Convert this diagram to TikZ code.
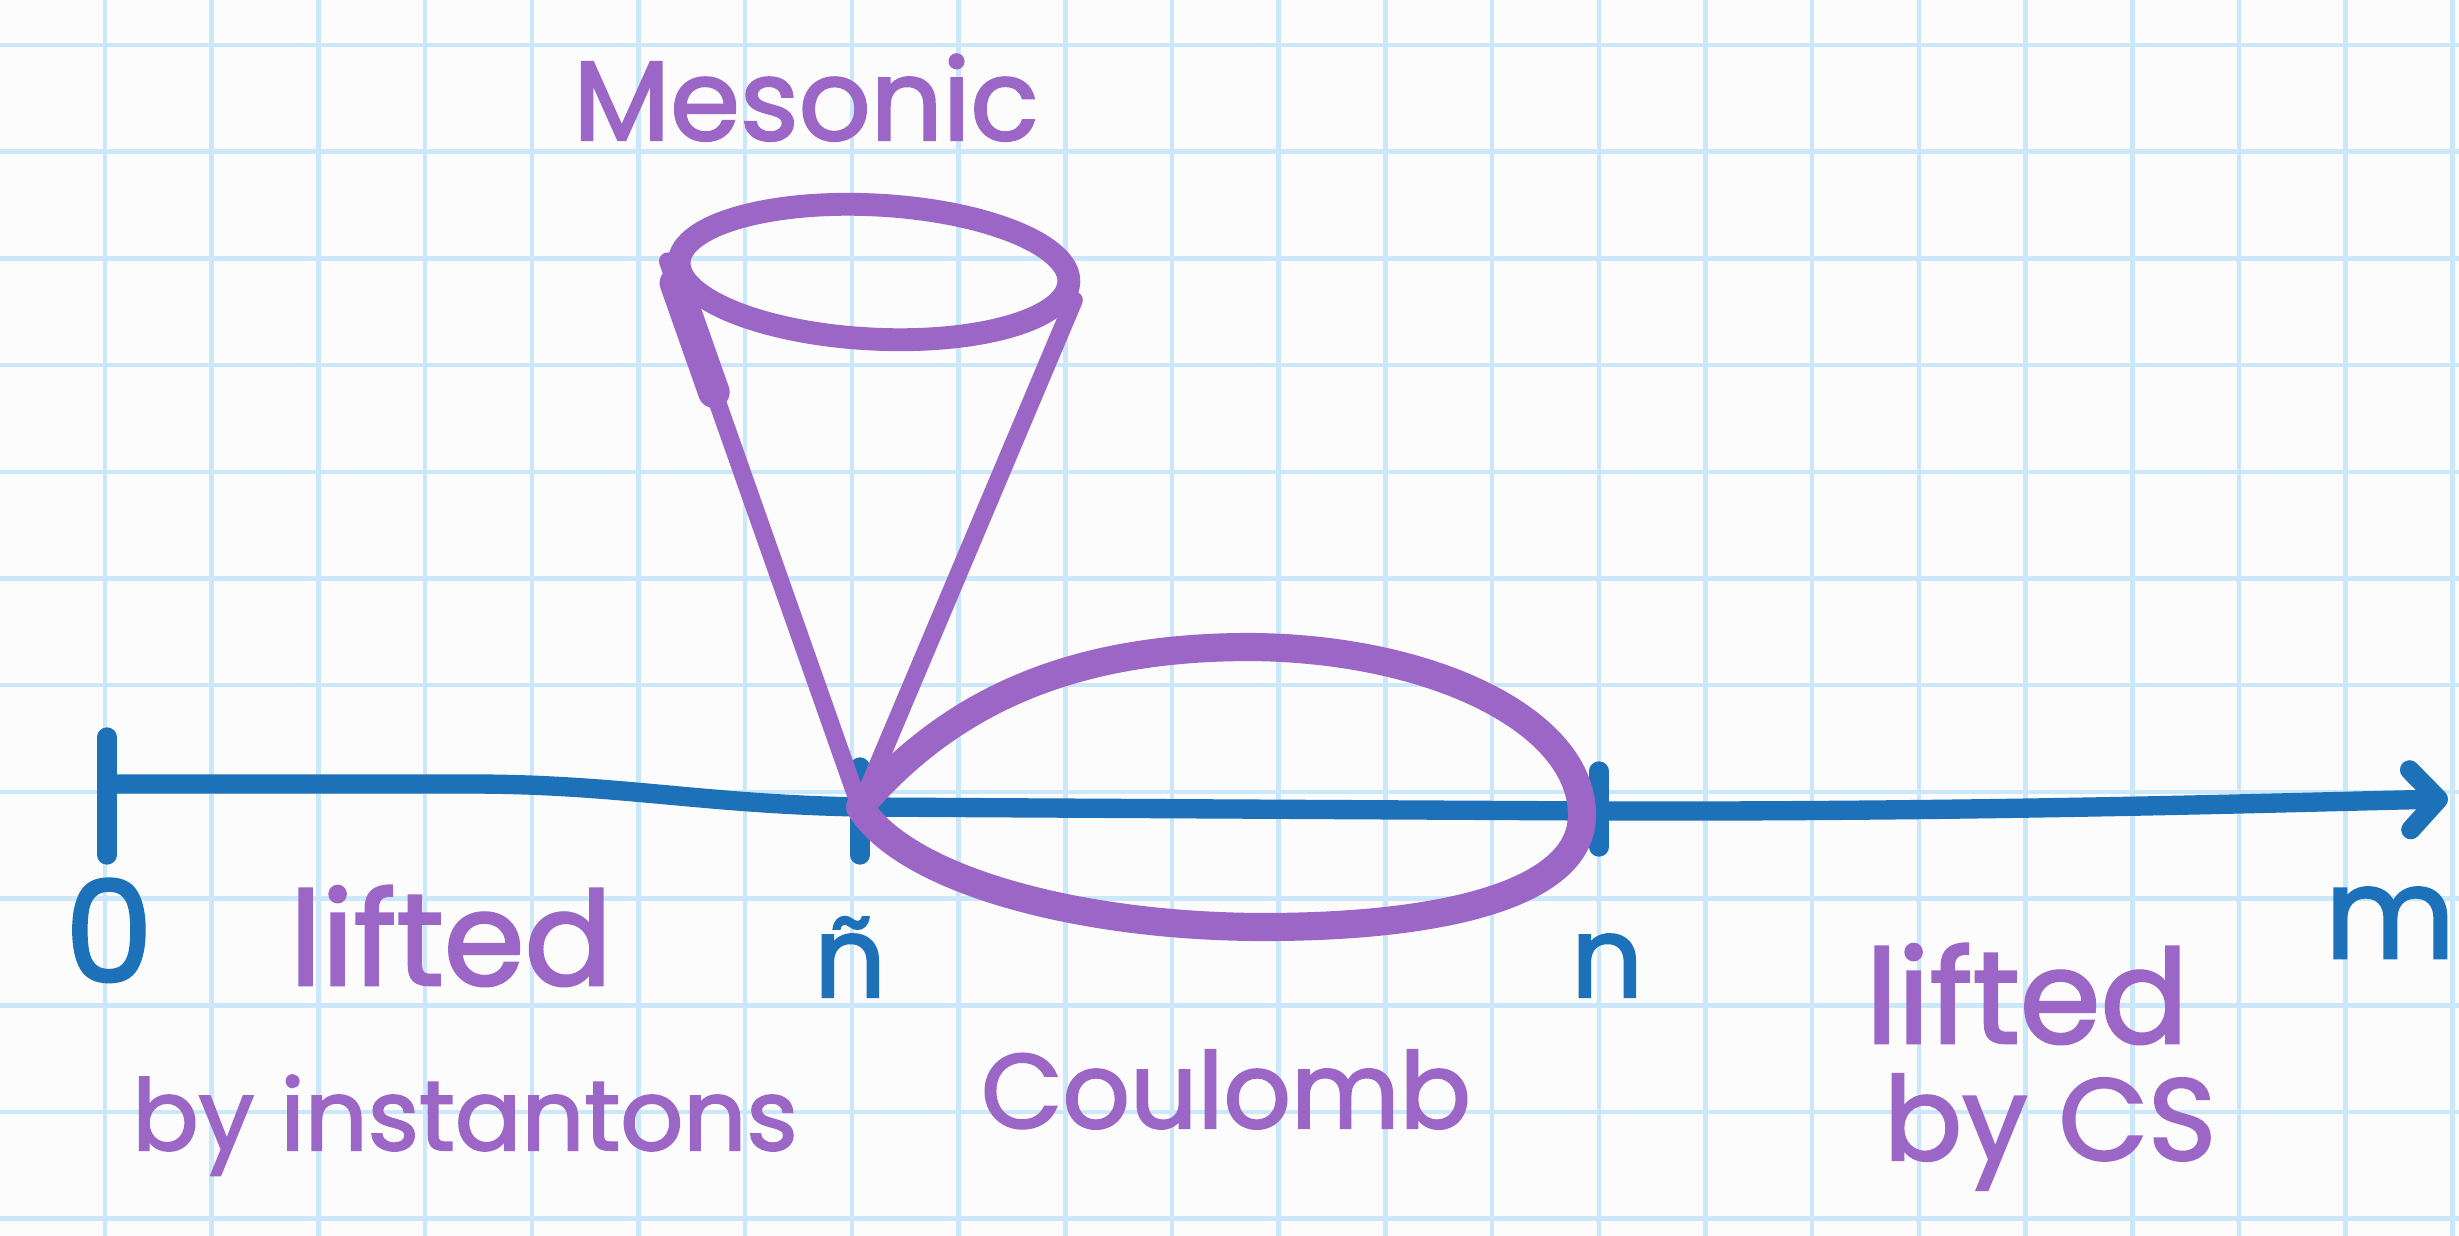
\documentclass[tikz,border=0pt]{standalone}
\usepackage{fontspec}
\setmainfont{Poppins}
\newfontfamily\handfont{Poppins}[FakeBold=2]
\usetikzlibrary{arrows.meta,calc,shapes.geometric}
\definecolor{axisblue}{RGB}{29,113,184}
\definecolor{penpurple}{RGB}{155,102,197}
\definecolor{gridblue}{RGB}{203,231,250}
\definecolor{paper}{RGB}{252,252,252}
\newcommand{\handsz}[1]{\handfont\fontsize{#1}{#1}\selectfont}
\tikzset{
  axisline/.style={draw=axisblue, line width=5.5pt, line cap=round, line join=round},
  penline/.style={draw=penpurple, line width=5pt, line cap=round, line join=round},
  hand/.style={inner sep=0pt, anchor=base, text=penpurple, font=\handsz{32}},
  handblue/.style={hand, text=axisblue},
}
\begin{document}
\begin{tikzpicture}
% sheet measured in pixels of the scan
\def\pxsz{0.01cm}
\providecommand{\gridStep}{106.7}
\begin{scope}[x=\pxsz, y=-\pxsz]
  % Paper and squares
  \fill[paper] (0,0) rectangle (2459,1236);
  \useasboundingbox (0,0) rectangle (2459,1236);
  \begin{scope}[draw=gridblue, line width=1.3pt]
    \foreach \i in {0,...,22} \draw ({105+\i*\gridStep},0) -- ({105+\i*\gridStep},1236);
    \foreach \j in {0,...,11} \draw (0,{45+\j*\gridStep}) -- (2459,{45+\j*\gridStep});
  \end{scope}
  % Points on the axis
  \coordinate (zero) at (107,784);
  \coordinate (ntil) at (860,807);
  \coordinate (nn) at (1599,811);
  \coordinate (mend) at (2448,799);
  % Axis
  \draw[axisline, -{Straight Barb[round,length=8pt,width=17pt]}] (zero) -- (470,784)
    .. controls (620,784) and (700,804) .. (ntil) -- (nn)
    .. controls (2000,812) and (2300,802) .. (mend);
  % Ticks
  \draw[axisline] (zero) ++(0,-47) -- ++(0,118);
  \draw[axisline] (ntil) ++(0,-40) -- ++(0,88);
  \draw[axisline] (nn) ++(0,-40) -- ++(0,76);
  % Coulomb branch
  \draw[penline, line width=8pt] (ntil) .. controls (960,690) and (1090,647) .. (1250,647)
    .. controls (1430,648) and (1582,720) .. (1582,815)
    .. controls (1582,895) and (1440,927) .. (1264,927)
    .. controls (1080,927) and (905,880) .. (ntil);
  % Mesonic cone
  \node[draw=penpurple, line width=6.5pt, ellipse, inner sep=0pt, minimum width=3.9cm, minimum height=1.34cm, rotate=-3] (rim) at (874,272) {};
  \draw[penline] (ntil) -- (rim.west);
  \draw[penline] (ntil) -- (rim.-5);
  \draw[penline, line width=9pt] ($(rim.west)!0.04!(ntil)$) -- ($(rim.west)!0.24!(ntil)$);
  % Labels
  \node[hand] (mesonic) at (806,140) {Mesonic};
  \node[handblue, font=\handsz{40}] (lbzero) at (109,982) {0};
  \node[handblue] (lbntil) at (850,997) {ñ};
  \node[handblue] (lbn) at (1607,997) {n};
  \node[handblue, font=\handsz{36}] (lbm) at (2390,958) {m};
  \node[hand, font=\handsz{37}] (liftedL) at (451,985) {lifted};
  \node[hand, font=\handsz{28}] (instantons) at (465,1150) {by instantons};
  \node[hand, font=\handsz{30}] (coulomb) at (1226,1128) {Coulomb};
  \node[hand, font=\handsz{37}] (liftedR) at (2027,1043) {lifted};
  \node[hand, font=\handsz{33}] (bycs) at (2050,1160) {by CS};
\end{scope}
\end{tikzpicture}
\end{document}
